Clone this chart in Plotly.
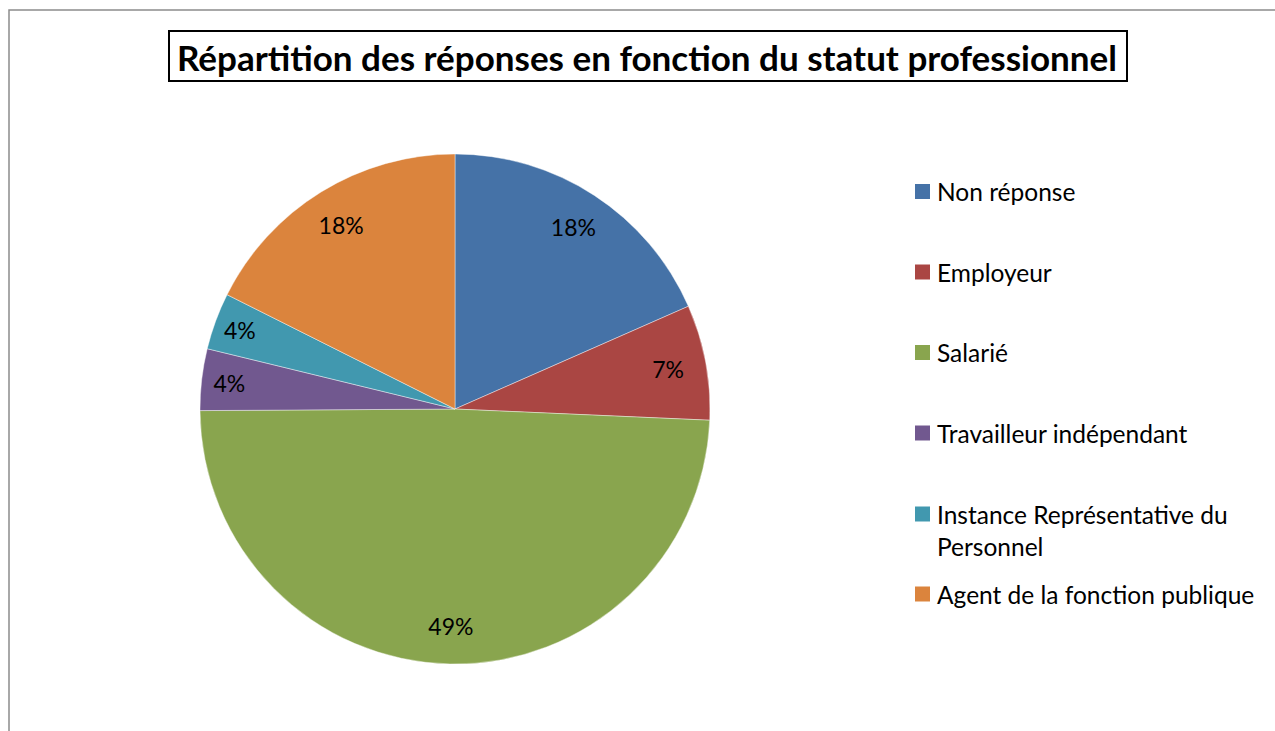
import plotly.graph_objects as go

labels = ["Non réponse", "Employeur", "Salarié", "Travailleur indépendant",
          "Instance Représentative du Personnel", "Agent de la fonction publique"]
legend_text = ["Non réponse", "Employeur", "Salarié", "Travailleur indépendant",
               "Instance Représentative du<br>Personnel", "Agent de la fonction publique"]
values = [18.4, 7.3, 49.2, 3.9, 3.6, 17.6]
colors = ["#4572A7", "#AA4643", "#89A54E", "#71588F", "#4198AF", "#DB843D"]
title = "Répartition des réponses en fonction du statut professionnel"

W, H = 1275, 731
FONT = "Lato, 'Open Sans', sans-serif"
CX, CY, R = 455, 409, 255
dom = dict(x=[(CX - R) / W, (CX + R) / W], y=[1 - (CY + R) / H, 1 - (CY - R) / H])

fig = go.Figure()
# coloured slices
fig.add_trace(go.Pie(
    labels=labels, values=values, sort=False, direction="clockwise", rotation=0,
    marker=dict(colors=colors, line=dict(color="rgba(255,255,255,0.6)", width=0.7)),
    textinfo="none", showlegend=False, domain=dom,
))
# transparent ring used only to place the percentage labels toward the outer edge
fig.add_trace(go.Pie(
    labels=labels, values=values, sort=False, direction="clockwise", rotation=0,
    hole=0.7,
    marker=dict(colors=["rgba(0,0,0,0)"] * len(values), line=dict(width=0)),
    texttemplate="%{percent:.0%}", textposition="inside",
    insidetextorientation="horizontal",
    textfont=dict(family=FONT, size=23, color="black"),
    showlegend=False, hoverinfo="skip", domain=dom,
))

shapes = [
    dict(type="rect", xref="paper", yref="paper",
         x0=9 / W, x1=1.05, y0=-0.05, y1=1 - 10 / H,
         line=dict(color="#8c8c8c", width=1.5), fillcolor="rgba(0,0,0,0)"),
    dict(type="rect", xref="paper", yref="paper",
         x0=169 / W, x1=1127 / W, y0=1 - 81 / H, y1=1 - 31 / H,
         line=dict(color="black", width=2), fillcolor="white"),
]
annotations = [dict(text="<b>" + title + "</b>", xref="paper", yref="paper",
                    x=647 / W, y=1 - 57 / H, xanchor="center", yanchor="middle",
                    showarrow=False, font=dict(family=FONT, size=35, color="black"))]

ys = [191.5, 272, 352.5, 433, 514, 594]
for lab, col, yc in zip(legend_text, colors, ys):
    shapes.append(dict(type="rect", xref="paper", yref="paper",
                       x0=915 / W, x1=930 / W, y0=1 - (yc + 7.5) / H, y1=1 - (yc - 7.5) / H,
                       fillcolor=col, line=dict(width=0)))
    annotations.append(dict(text=lab, xref="paper", yref="paper",
                            x=935 / W, y=1 - (yc - 16.5) / H, xanchor="left", yanchor="top",
                            align="left", showarrow=False,
                            font=dict(family=FONT, size=24.5, color="black")))

fig.update_layout(
    width=W, height=H, margin=dict(l=0, r=0, t=0, b=0),
    paper_bgcolor="white", plot_bgcolor="white",
    shapes=shapes, annotations=annotations,
)
fig.write_html("out.html", config={"displayModeBar": False},
               post_script="document.body.style.margin='0';document.body.style.overflow='hidden';")
